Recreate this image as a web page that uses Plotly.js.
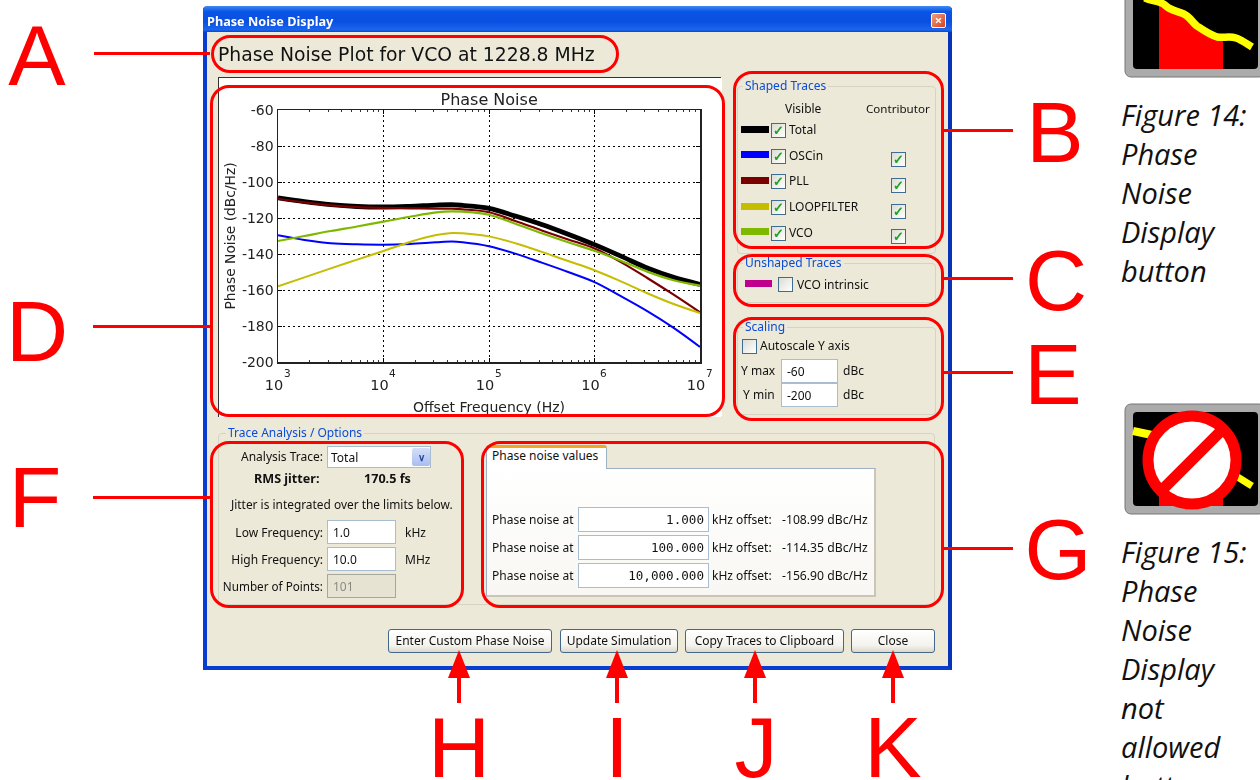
<!DOCTYPE html>
<html><head><meta charset="utf-8">
<script src="https://cdn.plot.ly/plotly-3.0.1.min.js"></script>
<style>
html,body{margin:0;padding:0;background:#fff;width:1260px;height:780px;overflow:hidden}
#page{position:relative;width:1260px;height:780px;overflow:hidden;font-family:"Noto Sans",sans-serif;font-size:12px;color:#111}
.a{position:absolute;white-space:nowrap}
.t{position:absolute;white-space:nowrap;line-height:14px;height:14px}
.in{position:absolute;background:#fff;border:1px solid #a9bdd0;box-sizing:border-box;white-space:nowrap;padding:0 5px;display:flex;align-items:center}
.cb{position:absolute;width:15px;height:15px;box-sizing:border-box;border:1px solid #3f6c92;background:linear-gradient(135deg,#dcdcd5,#fff);color:#21a121;font-size:13px;font-weight:bold;line-height:13px;text-align:center}
.btn{position:absolute;box-sizing:border-box;border:1px solid #44688c;border-radius:3px;background:linear-gradient(#fff,#f4f3ee 70%,#dcd8c8);display:flex;align-items:center;justify-content:center;top:629px;height:24px;white-space:nowrap;padding-bottom:2px}
.grp{position:absolute;border:1px solid #d6d3c2;border-radius:4px;box-sizing:border-box}
.lab{position:absolute;color:#0b4bd8;line-height:14px;padding:0 2px;background:#ece9d8}
.rr{position:absolute;box-sizing:border-box;border:3px solid #f00;border-radius:19px;pointer-events:none;z-index:5}
.ln{position:absolute;background:#f00;z-index:5}
.big{position:absolute;color:#f00;font-family:"Liberation Sans",sans-serif;font-size:86px;line-height:60px;height:60px;z-index:6;white-space:nowrap}
.cap{position:absolute;left:1121px;font-family:"Open Sans",sans-serif;font-style:italic;font-size:29px;line-height:39px;white-space:nowrap;color:#111}
.t,.in,.btn,.lab,.cb,#plot,.soft{filter:blur(.35px)}
</style></head><body>
<div id="page">
 <div class="a" style="left:203px;top:8px;width:749px;height:662px;background:#ece9d8;box-sizing:border-box;border:4px solid #0a3ccf;border-top:none;border-right-color:#0633b8"></div>
 <div class="a soft" style="left:203px;top:6px;width:749px;height:26px;background:linear-gradient(#3f8af2,#0a55e6 22%,#0a4fe0 60%,#1a66ee 92%,#0a45c8);color:#fff;font-weight:bold;font-size:12.7px;line-height:30px;padding-left:4px;box-sizing:border-box;border-radius:4px 4px 0 0">Phase Noise Display</div>
 <div class="a soft" style="left:931px;top:13px;width:15px;height:15px;background:linear-gradient(135deg,#f0a080,#d8401c);border:1px solid #fff;box-sizing:border-box;border-radius:2px;color:#fff;font-size:13px;font-weight:bold;line-height:12px;text-align:center">×</div>

 <div class="a soft" style="left:218px;top:44px;font-family:'DejaVu Sans',sans-serif;font-size:18.8px;line-height:22px;color:#111">Phase Noise Plot for VCO at 1228.8 MHz</div>

 <div class="a" style="left:218px;top:77px;width:503px;height:340px;background:#fff;border-top:1px solid #333;border-left:1px solid #333;box-sizing:border-box"></div>
 <div id="plot" class="a" style="left:219px;top:78px;width:503px;height:338px;overflow:hidden"></div>

 <!-- Shaped traces -->
 <div class="grp" style="left:737px;top:86px;width:199px;height:168px"></div>
 <div class="lab" style="left:743px;top:79px">Shaped Traces</div>
 <div class="t" style="left:785px;top:102px">Visible</div>
 <div class="t" style="left:866px;top:102px;font-size:11.6px">Contributor</div>
 <div id="shaped"></div>

 <!-- Unshaped -->
 <div class="grp" style="left:737px;top:263px;width:199px;height:40px"></div>
 <div class="lab" style="left:743px;top:256px">Unshaped Traces</div>
 <div class="a" style="left:745px;top:280px;width:27px;height:7px;background:#c0008c"></div>
 <div class="cb" style="left:778px;top:277px;color:transparent"></div>
 <div class="t" style="left:797px;top:278px">VCO intrinsic</div>

 <!-- Scaling -->
 <div class="grp" style="left:737px;top:327px;width:199px;height:88px"></div>
 <div class="lab" style="left:743px;top:320px">Scaling</div>
 <div class="cb" style="left:742px;top:339px;color:transparent"></div>
 <div class="t" style="left:760px;top:339px">Autoscale Y axis</div>
 <div class="t" style="left:741px;top:364px">Y max</div>
 <div class="in" style="left:781px;top:359px;width:57px;height:24px">-60</div>
 <div class="t" style="left:843px;top:364px">dBc</div>
 <div class="t" style="left:743px;top:388px">Y min</div>
 <div class="in" style="left:781px;top:383px;width:57px;height:24px">-200</div>
 <div class="t" style="left:843px;top:388px">dBc</div>

 <!-- Trace analysis -->
 <div class="grp" style="left:218px;top:433px;width:717px;height:172px"></div>
 <div class="lab" style="left:226px;top:426px">Trace Analysis / Options</div>
 <div class="t" style="right:937px;top:450px">Analysis Trace:</div>
 <div class="in" style="left:327px;top:446px;width:104px;height:22px;padding-left:3px">Total</div>
 <div class="a soft" style="left:412px;top:448px;width:18px;height:18px;background:linear-gradient(#d4dff8,#a9bdf2);border-radius:2px;color:#2a4b9b;font-size:10px;font-weight:bold;line-height:18px;text-align:center">∨</div>
 <div class="t" style="left:254px;top:472px;font-weight:bold;font-size:12.6px">RMS jitter:</div>
 <div class="t" style="left:364px;top:472px;font-weight:bold;font-size:12.6px">170.5 fs</div>
 <div class="t" style="left:231px;top:497px;font-size:11.9px">Jitter is integrated over the limits below.</div>
 <div class="t" style="right:937px;top:526px">Low Frequency:</div>
 <div class="in" style="left:327px;top:520px;width:69px;height:24px">1.0</div>
 <div class="t" style="left:405px;top:526px">kHz</div>
 <div class="t" style="right:937px;top:553px">High Frequency:</div>
 <div class="in" style="left:327px;top:547px;width:69px;height:24px">10.0</div>
 <div class="t" style="left:405px;top:553px">MHz</div>
 <div class="t" style="right:937px;top:579px;font-size:11.7px">Number of Points:</div>
 <div class="in" style="left:327px;top:574px;width:69px;height:24px;background:#e6e3d3;border-color:#a6a69c;color:#8a8a80">101</div>

 <!-- Tab -->
 <div class="a" style="left:486px;top:468px;width:390px;height:129px;background:linear-gradient(#fff,#f8f7f3);border:1px solid #9db1c6;border-bottom:2px solid #c9c6b7;border-right:2px solid #c9c6b7;box-sizing:border-box"></div>
 <div class="a" style="left:486px;top:445px;width:121px;height:24px;background:#fff;border:1px solid #9db1c6;border-bottom:none;border-top:3px solid #f2a623;box-sizing:border-box;border-radius:3px 3px 0 0;padding-left:5px;line-height:16px">Phase noise values</div>
 <div id="rows"></div>

 <!-- Buttons -->
 <div class="btn" style="left:388px;width:164px">Enter Custom Phase Noise</div>
 <div class="btn" style="left:560px;width:118px">Update Simulation</div>
 <div class="btn" style="left:685px;width:159px">Copy Traces to Clipboard</div>
 <div class="btn" style="left:851px;width:84px">Close</div>

 <!-- Red call-outs -->
 <div class="rr" style="left:211px;top:35px;width:408px;height:38px"></div>
 <div class="rr" style="left:210px;top:85px;width:515px;height:332px"></div>
 <div class="rr" style="left:733px;top:71px;width:211px;height:178px"></div>
 <div class="rr" style="left:733px;top:254px;width:211px;height:53px"></div>
 <div class="rr" style="left:733px;top:317px;width:211px;height:104px"></div>
 <div class="rr" style="left:210px;top:441px;width:254px;height:167px"></div>
 <div class="rr" style="left:481px;top:441px;width:463px;height:167px"></div>
 <div id="marks"></div>

 <div class="cap" style="top:95px">Figure 14:<br>Phase<br>Noise<br>Display<br>button</div>
 <div class="cap" style="top:532px">Figure 15:<br>Phase<br>Noise<br>Display<br>not<br>allowed<br>button</div>

 <svg class="a" style="left:1120px;top:0" width="140" height="80">
  <rect x="5" y="-30" width="140" height="107" rx="6" fill="#ababab" stroke="#777"/>
  <rect x="13" y="-22" width="125" height="91" rx="4" fill="#000"/>
  <path d="M39,3 C48,6 52,12 67,15 C72,18 73,22 77,26 C83,30 90,34 97,37 L103,37 L103,69 L39,69 Z" fill="#f00"/>
  <path d="M25,-2 C32,2 40,0 46,6 C52,12 62,11 67,16 C72,20 73,23 77,26 C83,30 90,35 97,37 C104,38 110,36 116,38 C122,40 127,44 132,47" fill="none" stroke="#ff0" stroke-width="7.5"/>
 </svg>
 <svg class="a" style="left:1120px;top:400px" width="140" height="120">
  <rect x="5" y="4" width="140" height="110" rx="6" fill="#ababab" stroke="#777"/>
  <rect x="13" y="12" width="125" height="94" rx="4" fill="#000"/>
  <polyline points="13,31 32,35" fill="none" stroke="#ff0" stroke-width="8"/>
  <polyline points="116,76 132,86" fill="none" stroke="#ff0" stroke-width="7"/>
  <rect x="39" y="80" width="64" height="26" fill="#f00"/>
  <circle cx="72" cy="60" r="44" fill="#fff" stroke="#f00" stroke-width="11"/>
  <line x1="42" y1="90" x2="103" y2="29" stroke="#f00" stroke-width="11"/>
 </svg>
</div>
<script>
var freqExp = [3,3.25,3.5,3.75,4,4.25,4.5,4.65,4.75,5,5.25,5.5,5.75,6,6.25,6.5,6.75,7];
var total  = [-108.8,-110.9,-112.6,-113.6,-113.9,-113.5,-112.8,-112.6,-113,-114.6,-118.9,-123.6,-129,-134.8,-141.2,-147.8,-153,-156.9];
var oscin  = [-129.6,-132.2,-134,-134.6,-134.8,-134.4,-133.5,-133.1,-133.5,-135.7,-139.8,-144.8,-150,-155.6,-163.4,-171.7,-181,-191.6];
var pll    = [-109.3,-111.3,-113,-114,-114.4,-114.6,-114.8,-114.8,-115.2,-116.8,-121.7,-126.9,-131.9,-136.9,-144.5,-153.3,-162.6,-172.4];
var loop   = [-157.9,-153,-148,-143.1,-138.3,-133.3,-129.5,-128.3,-128.5,-130.2,-134,-138.8,-143.9,-149,-155.2,-161.8,-167.8,-172.8];
var vco    = [-132.8,-130,-127.2,-124.7,-122,-119.3,-116.9,-116.3,-116.5,-118.2,-123.2,-128.5,-133.5,-138.2,-143.7,-149.8,-154.6,-157.6];
var yTicks = [-60,-80,-100,-120,-140,-160,-180,-200];
var xExps  = [3,4,5,6,7];
var colTotal='#000000', colOsc='#0000ff', colPll='#7a0000', colLoop='#c4bd00', colVco='#7fb800';

var shapedNames = ['Total','OSCin','PLL','LOOPFILTER','VCO'];
var shapedCols  = [colTotal,colOsc,colPll,colLoop,colVco];
var shapedY     = [130,155,181,207,232];
var checkY      = [130,156,181,207,233];
var contribY    = [null,159,185,211,236];
var noiseKHz    = ['1.000','100.000','10,000.000'];
var noiseVal    = ['-108.99 dBc/Hz','-114.35 dBc/Hz','-156.90 dBc/Hz'];
var noiseY      = [520,548,576];

function freq(){return freqExp.map(function(e){return Math.pow(10,e);});}
var traces=[[total,colTotal,4.8,'Total'],[oscin,colOsc,2,'OSCin'],[pll,colPll,2.2,'PLL'],[loop,colLoop,2,'LOOPFILTER'],[vco,colVco,2.2,'VCO']].map(function(s){
  return {x:freq(),y:s[0],mode:'lines',name:s[3],line:{color:s[1],width:s[2],shape:'spline',smoothing:1},showlegend:false,hoverinfo:'skip'};
});
var axisFont={family:'"DejaVu Sans",sans-serif',size:14,color:'#222'};
var layout={
  width:503,height:338,autosize:false,
  paper_bgcolor:'#ffffff',plot_bgcolor:'#ffffff',
  margin:{l:59,r:22,t:32,b:54,pad:0},
  title:{text:'Phase Noise',font:{family:'"DejaVu Sans",sans-serif',size:16,color:'#222'},x:0.537,xanchor:'center',y:0.938,yanchor:'middle'},
  xaxis:{type:'log',range:[3,7],tickmode:'array',tickvals:xExps.map(function(e){return Math.pow(10,e);}),ticktext:xExps.map(function(){return '10';}),
    ticks:'inside',ticklen:4,tickcolor:'#000',tickfont:{family:'"DejaVu Sans",sans-serif',size:14.5,color:'#222'},ticklabelstandoff:9,ticklabelshift:-4,
    showline:true,linecolor:'#222',linewidth:1.5,mirror:'ticks',
    showgrid:true,gridcolor:'#000',griddash:'2px,3px',gridwidth:1,zeroline:false,
    minor:{ticks:'inside',ticklen:2,tickcolor:'#333',dtick:'D1',showgrid:false},
    title:{text:'Offset Frequency (Hz)',font:{family:'"DejaVu Sans",sans-serif',size:14,color:'#222'},standoff:10}},
  yaxis:{range:[-200,-60],tickmode:'array',tickvals:yTicks,ticktext:yTicks.map(String),
    ticks:'inside',ticklen:4,tickcolor:'#000',tickfont:axisFont,
    showline:true,linecolor:'#222',linewidth:1.5,mirror:'ticks',
    showgrid:true,gridcolor:'#000',griddash:'2px,3px',gridwidth:1,zeroline:false,
    title:{text:'Phase Noise (dBc/Hz)',font:{family:'"DejaVu Sans",sans-serif',size:13.8,color:'#222'},standoff:3}},
  annotations:xExps.map(function(e){return {text:String(e),xref:'x',yref:'paper',x:e,y:0,yanchor:'middle',xanchor:'center',xshift:9,yshift:-11,showarrow:false,font:{family:'"DejaVu Sans",sans-serif',size:10.5,color:'#222'}};})
};
Plotly.newPlot('plot',traces,layout,{displayModeBar:false,staticPlot:true});

function el(parent,cls,style,text){var d=document.createElement('div');d.className=cls;d.style.cssText=style;if(text!=null)d.textContent=text;parent.appendChild(d);return d;}
var sh=document.getElementById('shaped');
shapedNames.forEach(function(n,i){
  el(sh,'a','left:741px;top:'+(shapedY[i]-4)+'px;width:28px;height:7px;background:'+shapedCols[i]);
  el(sh,'cb','left:771px;top:'+(checkY[i]-7)+'px','✓');
  el(sh,'t','left:789px;top:'+(checkY[i]-7)+'px',n);
  if(contribY[i]) el(sh,'cb','left:891px;top:'+(contribY[i]-7)+'px','✓');
});
var rw=document.getElementById('rows');
noiseKHz.forEach(function(k,i){
  var y=noiseY[i];
  el(rw,'t','left:492px;top:'+(y-7)+'px','Phase noise at');
  el(rw,'in','left:578px;top:'+(y-13)+'px;width:131px;height:25px;justify-content:flex-end;font-family:\'DejaVu Sans Mono\',monospace;font-size:12.6px;padding-right:4px',k);
  el(rw,'t','left:712px;top:'+(y-7)+'px','kHz offset:');
  el(rw,'t','left:782px;top:'+(y-7)+'px;font-size:12.2px',noiseVal[i]);
});
var m=document.getElementById('marks');
[[94,53,116],[93,326,117],[93,497,117],[943,130,70],[943,278,70],[943,372,70],[943,548,70]].forEach(function(l){
  el(m,'ln','left:'+l[0]+'px;top:'+(l[1]-1.5)+'px;width:'+l[2]+'px;height:3px');
});
[459,617,755,893].forEach(function(x){
  el(m,'ln','left:'+(x-2)+'px;top:670px;width:4px;height:33px');
  el(m,'a','z-index:5;left:'+(x-11)+'px;top:650px;width:0;height:0;border-left:11px solid transparent;border-right:11px solid transparent;border-bottom:28px solid #f00');
});
[['A',37,55],['B',1055,132],['C',1056,280],['D',37,331],['E',1053,374],['F',35,497],['G',1058,549],['H',459,747],['I',617,747],['J',756,747],['K',893,747]].forEach(function(b){
  el(m,'big','left:'+(b[1]-60)+'px;top:'+(b[2]-30)+'px;width:120px;text-align:center',b[0]);
});
</script>
</body></html>
